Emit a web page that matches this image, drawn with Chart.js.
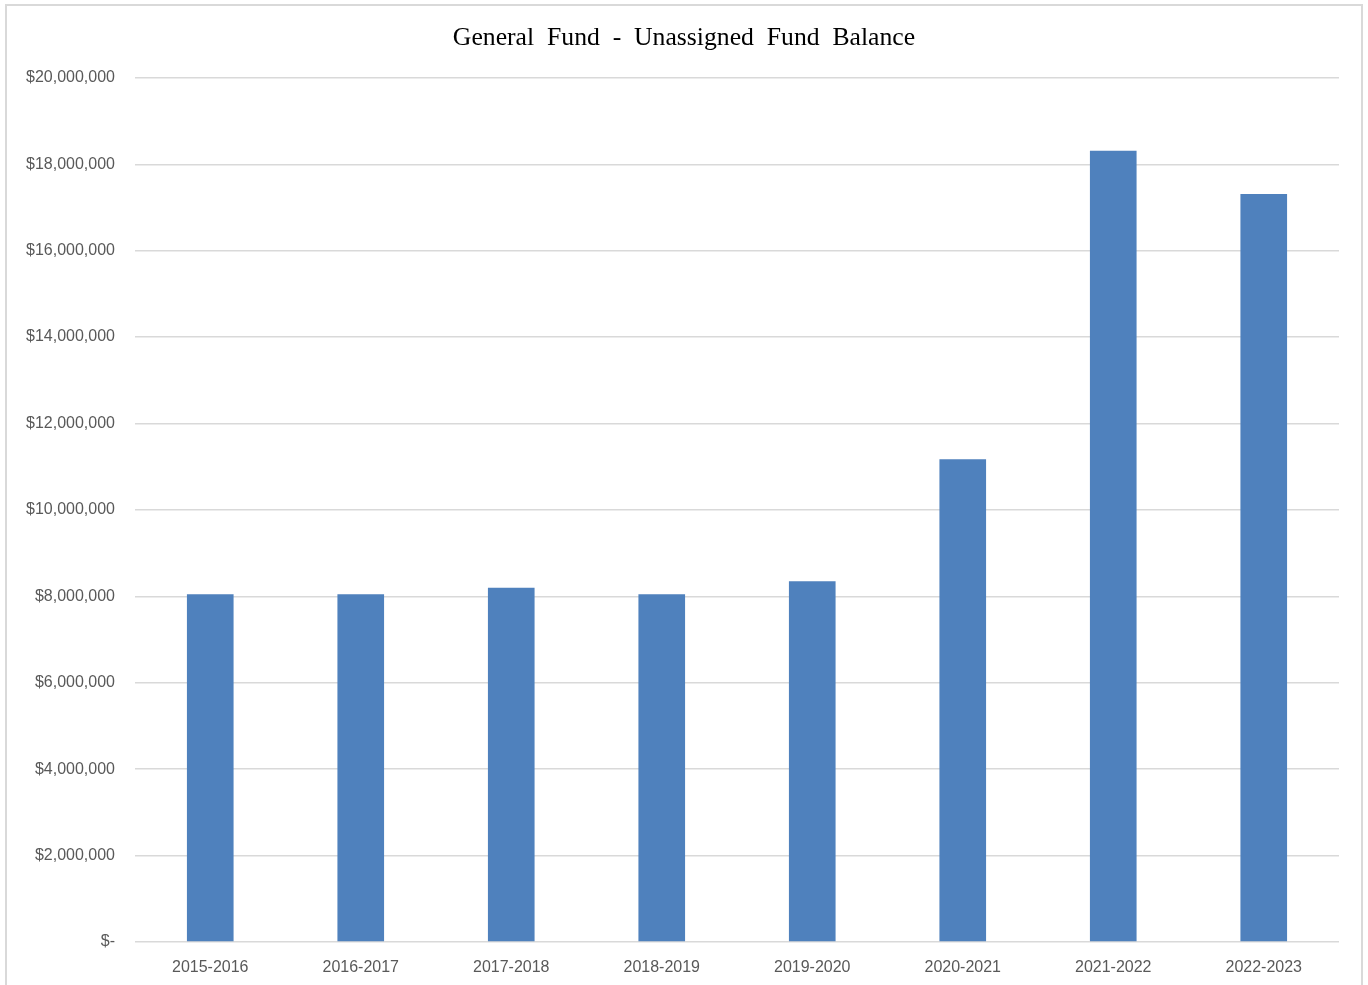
<!DOCTYPE html>
<html>
<head>
<meta charset="utf-8">
<script src="https://cdn.jsdelivr.net/npm/chart.js@4"></script>
<style>
  html, body { margin: 0; padding: 0; background: #fff; overflow: hidden; }
  #frame { position: absolute; left: 5px; top: 4px; width: 1354px; height: 1000px; border: 2px solid #d9d9d9; }
  #myBarChart { position: absolute; left: 0; top: 0; }
</style>
</head>
<body>
<div id="frame"></div>
<canvas id="myBarChart" width="1368" height="985"></canvas>
<script>
// fiscal years
var years = ['2015-2016', '2016-2017', '2017-2018', '2018-2019', '2019-2020', '2020-2021', '2021-2022', '2022-2023'];
// unassigned balance
var balances = [8050000, 8050000, 8200000, 8050000, 8350000, 11170000, 18310000, 17310000];
var yTicks = [0, 2000000, 4000000, 6000000, 8000000, 10000000, 12000000, 14000000, 16000000, 18000000, 20000000];

function money(v) {
    if (v === 0) return '$-';
    return '$' + v.toLocaleString('en-US');
}

var bar = document.getElementById('myBarChart').getContext('2d');
var myBarChart = new Chart(bar, {
    type: 'bar',
    data: {
        labels: years,
        datasets: [{
            label: 'Unassigned Fund Balance',
            data: balances,
            backgroundColor: '#4f81bd',
            borderWidth: 0,
            categoryPercentage: 1,
            barPercentage: 0.31
        }]
    },
    options: {
        responsive: false,
        maintainAspectRatio: false,
        animation: false,
        layout: {
            padding: { top: 3, right: 15, bottom: 0, left: 15 }
        },
        plugins: {
            legend: { display: false },
            tooltip: { enabled: false },
            title: {
                display: true,
                text: 'General  Fund  -  Unassigned  Fund  Balance',
                color: '#000',
                font: { family: '"Liberation Serif", "Times New Roman", serif', size: 25.7, weight: 'normal' },
                padding: { top: 20, bottom: 24 }
            }
        },
        scales: {
            x: {
                grid: { display: false },
                border: { display: false },
                afterFit: function(axis) { axis.height = 43; },
                ticks: {
                    color: '#595959',
                    font: { family: '"Liberation Sans", Arial, sans-serif', size: 16 },
                    padding: 8,
                    maxRotation: 0
                }
            },
            y: {
                min: 0,
                max: 20000000,
                afterBuildTicks: function(axis) {
                    axis.ticks = yTicks.map(function(v) { return { value: v }; });
                },
                afterFit: function(axis) { axis.width = 120; },
                grid: { color: '#d9d9d9', lineWidth: 1.5, drawTicks: false },
                border: { display: false },
                ticks: {
                    color: '#595959',
                    font: { family: '"Liberation Sans", Arial, sans-serif', size: 16 },
                    padding: 20,
                    callback: function(v) { return money(v); }
                }
            },
            // empty right-hand spacer so the plot ends where the reference does
            yRight: {
                position: 'right',
                grid: { display: false },
                border: { display: false },
                ticks: { display: false },
                afterFit: function(axis) { axis.width = 14; }
            }
        }
    }
});
</script>
</body>
</html>
